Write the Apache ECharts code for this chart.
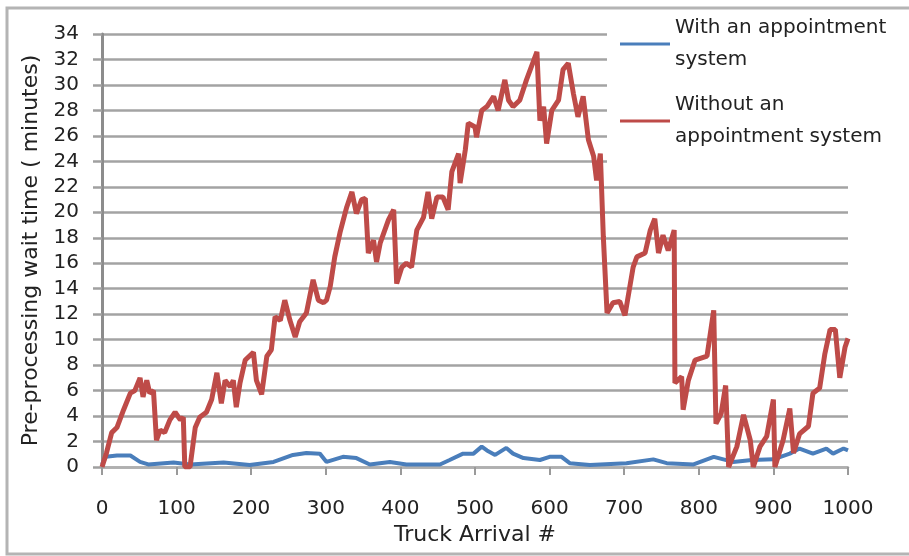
<!DOCTYPE html>
<html>
<head>
    <meta charset="utf-8" />
    <script type="text/javascript" src="https://cdn.jsdelivr.net/npm/echarts@6/dist/echarts.min.js"></script>
    <title></title>
    <style>
        html, body { margin: 0; padding: 0; background: #fff; }
    </style>
</head>
<body>
    <div id="main" style="width: 909px;height:556px;"></div>
    <script type="text/javascript">
    // 数据：到达编号 / 等待时间
    var yTicks = [0, 34, 2];
    var xTicks = [0, 1000, 100];
    var nameWith = 'With an appointment system';
    var nameWithout = 'Without an appointment system';

    var withoutX = [0, 6, 13, 20, 29, 38, 44, 51, 55, 60, 64, 69, 73, 78, 84, 91, 98, 105, 109, 111, 118, 125, 131, 140, 147, 154, 160, 165, 172, 176, 180, 185, 192, 203, 207, 214, 221, 227, 232, 239, 245, 252, 259, 265, 274, 283, 290, 297, 301, 306, 312, 319, 328, 335, 341, 348, 353, 357, 364, 368, 373, 384, 391, 395, 402, 408, 415, 422, 431, 437, 442, 449, 457, 464, 469, 478, 480, 487, 491, 500, 502, 509, 516, 525, 531, 540, 545, 551, 560, 569, 583, 587, 592, 596, 603, 612, 618, 625, 632, 638, 645, 652, 659, 663, 668, 672, 677, 685, 694, 701, 712, 717, 728, 735, 741, 746, 752, 759, 767, 768, 777, 779, 786, 795, 811, 820, 823, 830, 836, 840, 851, 860, 869, 873, 882, 891, 900, 902, 913, 922, 927, 935, 947, 953, 962, 969, 976, 983, 989, 996, 1000];
    var withoutY = [0, 1.1, 2.7, 3.1, 4.5, 5.8, 6.0, 7.0, 5.5, 6.8, 5.8, 6.0, 2.1, 2.9, 2.7, 3.7, 4.3, 3.7, 3.9, 0, 0, 3.1, 3.9, 4.3, 5.3, 7.4, 5.0, 6.8, 6.3, 6.8, 4.7, 6.6, 8.4, 9.0, 6.8, 5.7, 8.7, 9.2, 11.8, 11.5, 13.1, 11.5, 10.2, 11.4, 12.1, 14.7, 13.1, 12.9, 13.1, 14.2, 16.5, 18.4, 20.4, 21.6, 19.9, 21.0, 21.1, 16.8, 17.8, 16.1, 17.6, 19.4, 20.2, 14.4, 15.7, 16.0, 15.7, 18.6, 19.6, 21.6, 19.5, 21.2, 21.2, 20.2, 23.2, 24.6, 22.3, 24.9, 27.0, 26.7, 25.9, 28.0, 28.3, 29.1, 28.0, 30.4, 28.8, 28.3, 28.8, 30.4, 32.6, 27.2, 28.3, 25.4, 28.0, 28.8, 31.2, 31.7, 29.3, 27.5, 29.1, 25.7, 24.4, 22.5, 24.6, 18.1, 12.1, 12.9, 13.0, 11.9, 15.7, 16.5, 16.8, 18.6, 19.5, 16.8, 18.2, 17.0, 18.6, 6.6, 7.1, 4.5, 6.8, 8.4, 8.7, 12.3, 3.4, 4.2, 6.4, 0, 1.6, 4.1, 2.1, 0, 1.6, 2.4, 5.3, 0, 2.1, 4.6, 1.1, 2.6, 3.2, 5.8, 6.2, 8.9, 10.8, 10.8, 7.0, 9.4, 10.1];

    var withX = [0, 5, 20, 38, 51, 62, 96, 118, 163, 198, 230, 256, 274, 292, 301, 323, 341, 359, 386, 408, 453, 466, 484, 498, 509, 516, 527, 542, 551, 565, 587, 600, 616, 627, 654, 668, 703, 739, 757, 793, 820, 846, 871, 900, 922, 935, 953, 971, 980, 994, 1000];
    var withY = [0.2, 0.8, 0.9, 0.9, 0.4, 0.2, 0.35, 0.2, 0.35, 0.15, 0.4, 0.95, 1.1, 1.05, 0.4, 0.8, 0.7, 0.2, 0.4, 0.2, 0.2, 0.55, 1.05, 1.05, 1.6, 1.3, 0.95, 1.5, 1.05, 0.7, 0.55, 0.8, 0.8, 0.3, 0.15, 0.2, 0.3, 0.6, 0.3, 0.2, 0.8, 0.4, 0.55, 0.6, 1.05, 1.45, 1.05, 1.45, 1.05, 1.45, 1.3];

    function zip(xs, ys) {
        var out = [];
        for (var i = 0; i < xs.length; i++) {
            out.push([xs[i], ys[i]]);
        }
        return out;
    }

    var legendNames = {};
    legendNames[nameWith] = 'With an appointment\nsystem';
    legendNames[nameWithout] = 'Without an\nappointment system';

    var legendText = {
        fontFamily: 'DejaVu Sans',
        fontSize: 20,
        color: '#222',
        lineHeight: 32,
        padding: [32, 0, 0, 0]
    };

    var myChart = echarts.init(document.getElementById('main'));
    var option = {
        backgroundColor: '#fff',
        animation: false,
        graphic: [{
            type: 'rect',
            z: 0,
            shape: { x: 7, y: 8, width: 1000, height: 546 },
            style: { fill: 'none', stroke: '#b4b4b4', lineWidth: 3 }
        }, {
            type: 'rect',
            z: 1,
            shape: { x: 607, y: 12, width: 320, height: 162 },
            style: { fill: '#fff' }
        }],
        legend: [{
            data: [nameWith],
            left: 620,
            top: -4,
            padding: 0,
            z: 10,
            icon: 'rect',
            itemWidth: 50,
            itemHeight: 3,
            itemGap: 5,
            formatter: function(n) { return legendNames[n]; },
            textStyle: legendText
        }, {
            data: [nameWithout],
            left: 620,
            top: 73,
            padding: 0,
            z: 10,
            icon: 'rect',
            itemWidth: 50,
            itemHeight: 3,
            itemGap: 5,
            formatter: function(n) { return legendNames[n]; },
            textStyle: legendText
        }],
        grid: {
            left: 102,
            right: 61,
            top: 34,
            bottom: 89,
            containLabel: false
        },
        xAxis: {
            type: 'value',
            min: xTicks[0],
            max: xTicks[1],
            interval: xTicks[2],
            name: 'Truck Arrival #',
            nameLocation: 'middle',
            nameGap: 57,
            nameTextStyle: { fontFamily: 'DejaVu Sans', fontSize: 22, color: '#222' },
            splitLine: { show: false },
            axisLine: { lineStyle: { color: '#b0b0b0', width: 2.5 } },
            axisTick: { show: true, length: 8, lineStyle: { color: '#9a9a9a', width: 2 } },
            axisLabel: {
                margin: 32, fontFamily: 'DejaVu Sans', fontSize: 20, color: '#222',
                formatter: function(v) { return String(v); }
            }
        },
        yAxis: {
            type: 'value',
            min: yTicks[0],
            max: yTicks[1],
            interval: yTicks[2],
            name: 'Pre-processing wait time ( minutes)',
            nameLocation: 'middle',
            nameGap: 56,
            nameTextStyle: { fontFamily: 'DejaVu Sans', fontSize: 22, color: '#222' },
            axisLine: { show: true, lineStyle: { color: '#8c8c8c', width: 3 } },
            axisTick: { show: true, length: 9, lineStyle: { color: '#a0a0a0', width: 2.5 } },
            axisLabel: { margin: 23, fontFamily: 'DejaVu Sans', fontSize: 20, color: '#222' },
            splitLine: { show: true, lineStyle: { color: '#a3a3a3', width: 2.5 } }
        },
        series: [{
            name: nameWith,
            type: 'line',
            data: zip(withX, withY),
            symbol: 'none',
            z: 3,
            lineStyle: { color: '#4a7ebb', width: 4 },
            itemStyle: { color: '#4a7ebb' }
        }, {
            name: nameWithout,
            type: 'line',
            data: zip(withoutX, withoutY),
            symbol: 'none',
            z: 4,
            lineStyle: { color: '#be4b48', width: 5 },
            itemStyle: { color: '#be4b48' }
        }]
    };
    myChart.setOption(option);
    </script>
</body>
</html>
